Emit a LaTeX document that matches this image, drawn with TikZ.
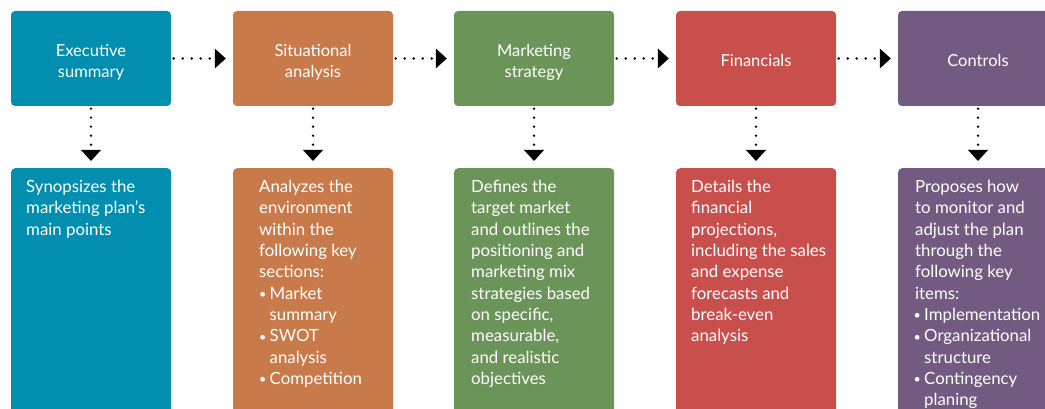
\documentclass[tikz,border=0pt]{standalone}
\usepackage{fontspec}
\setmainfont{Lato}
\usetikzlibrary{arrows.meta}
\definecolor{cexec}{RGB}{2,142,174}
\definecolor{csit}{RGB}{200,122,75}
\definecolor{cmkt}{RGB}{107,148,89}
\definecolor{cfin}{RGB}{201,79,76}
\definecolor{cctl}{RGB}{115,90,129}
% bullet with hanging indent
\newcommand\bul{\makebox[10.5pt][l]{\raisebox{0.8pt}{\fontsize{12.5}{12.5}\selectfont\textbullet}}}
\newcommand\ind{\hspace*{10.5pt}}
% header caption, centred lines set a little low in the box
\newcommand\hdr[1]{\raisebox{0pt}[\dimexpr\height+8pt\relax][\depth]{\begin{tabular}{@{}c@{}}#1\end{tabular}}}
\begin{document}
\begin{tikzpicture}[x=1pt,y=1pt,
  topbox/.style={fill=#1, rounded corners=4pt, minimum width=160pt, minimum height=95pt,
    inner sep=0pt, text=white, font=\fontsize{16.5}{21}\selectfont},
  lowbox/.style={fill=#1, rounded corners=4pt, minimum width=160pt, minimum height=260pt,
    inner sep=0pt, anchor=north west},
  bodytext/.style={text=white, align=left, anchor=north west, inner sep=0pt,
    font=\fontsize{16.8}{21.33}\selectfont},
  flow/.style={line width=2.6pt, line cap=round, dash pattern=on 0pt off 9pt,
    -{Triangle[length=11pt,width=20pt,line width=0pt]}, shorten <=2.5pt, shorten >=7pt}]
\useasboundingbox (0,0) rectangle (1045,-409);
\clip (0,0) rectangle (1045,-409);

% header boxes
\node[topbox=cexec] (h1) at (91,-58.5) {\hdr{Executive\\summary}};
\node[topbox=csit]  (h2) at (313,-58.5) {\hdr{Situational\\analysis}};
\node[topbox=cmkt]  (h3) at (534,-58.5) {\hdr{Marketing\\strategy}};
\node[topbox=cfin]  (h4) at (756,-58.5) {\hdr{Financials}};
\node[topbox=cctl]  (h5) at (978,-58.5) {\hdr{Controls}};

% detail boxes
\node[lowbox=cexec] (d1) at (11,-168) {};
\node[lowbox=csit]  (d2) at (233,-168) {};
\node[lowbox=cmkt]  (d3) at (454,-168) {};
\node[lowbox=cfin]  (d4) at (676,-168) {};
\node[lowbox=cctl]  (d5) at (898,-168) {};

% detail texts
\node[bodytext] (t1) at (26,-180) {Synopsizes the\\marketing plan’s\\main points};
\node[bodytext] (t2) at (259,-180) {Analyzes the\\environment\\within the\\following key\\sections:\\
  \bul Market\\\ind summary\\\bul SWOT\\\ind analysis\\\bul Competition};
\node[bodytext] (t3) at (471,-180) {Defines the\\target market\\and outlines the\\positioning and\\marketing mix\\strategies based\\on specific,\\measurable,\\and realistic\\objectives};
\node[bodytext] (t4) at (691,-180) {Details the\\financial\\projections,\\including the sales\\and expense\\forecasts and\\break-even\\analysis};
\node[bodytext] (t5) at (915,-180) {Proposes how\\to monitor and\\adjust the plan\\through the\\following key\\items:\\
  \hspace*{-1.5pt}\bul Implementation\\\hspace*{-1.5pt}\bul Organizational\\\hspace*{-1.5pt}\ind structure\\\hspace*{-1.5pt}\bul Contingency\\\hspace*{-1.5pt}\ind planing};

% connectors between headers
\draw[flow] (h1.east) -- (h2.west);
\draw[flow] (h2.east) -- (h3.west);
\draw[flow] (h3.east) -- (h4.west);
\draw[flow] (h4.east) -- (h5.west);

% connectors down to details
\draw[flow] (h1.south) -- (h1.south |- d1.north);
\draw[flow] (h2.south) -- (h2.south |- d2.north);
\draw[flow] (h3.south) -- (h3.south |- d3.north);
\draw[flow] (h4.south) -- (h4.south |- d4.north);
\draw[flow] (h5.south) -- (h5.south |- d5.north);
\end{tikzpicture}
\end{document}
